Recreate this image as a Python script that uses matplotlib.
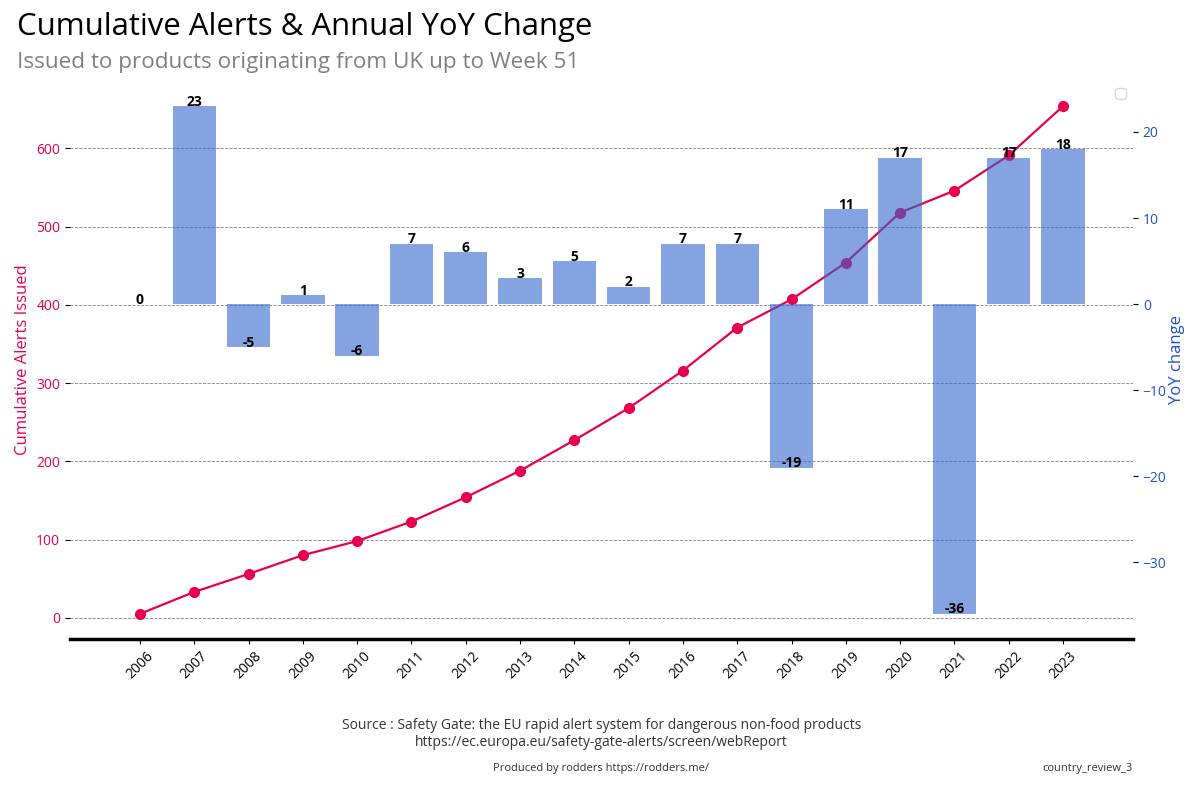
import matplotlib
matplotlib.use("Agg")
import matplotlib.pyplot as plt
import numpy as np

plt.rcParams['font.family'] = ['Open Sans', 'DejaVu Sans']

years = [2006, 2007, 2008, 2009, 2010, 2011, 2012, 2013, 2014, 2015,
         2016, 2017, 2018, 2019, 2020, 2021, 2022, 2023]
cumulative = [5, 33, 56, 80, 98, 123, 154, 188, 227, 268,
              316, 371, 407, 454, 518, 546, 591, 654]
yoy = [0, 23, -5, 1, -6, 7, 6, 3, 5, 2, 7, 7, -19, 11, 17, -36, 17, 18]

line_color = '#e8004c'
bar_color = '#3366cc'
right_color = '#1f4fcc'

fig = plt.figure(figsize=(12, 8), dpi=100)
ax = fig.add_axes([0.0583, 0.201, 0.8859, 0.698])
x = np.arange(len(years))

ax.plot(x, cumulative, color=line_color, marker='o', markersize=7, linewidth=1.6, zorder=3)
ax.set_ylabel('Cumulative Alerts Issued', color=line_color, fontsize=12)
ax.tick_params(axis='y', labelcolor=line_color, labelsize=10)
ax.grid(axis='y', linestyle='--', color='gray', linewidth=0.6)
ax.set_axisbelow(True)
ax.set_xticks(x)
ax.set_xticklabels([str(y) for y in years], rotation=45, fontsize=10)
for s in ['top', 'right', 'left']:
    ax.spines[s].set_visible(False)
ax.spines['bottom'].set_linewidth(2.5)

ax2 = ax.twinx()
ax2.bar(x, yoy, width=0.8, color=bar_color, alpha=0.6)
for xi, v in zip(x, yoy):
    ax2.annotate(str(v), (xi, v), xytext=(0, -1.8), textcoords='offset points',
                 ha='center', va='bottom', fontsize=10, fontweight='bold', color='black')
ax2.set_ylabel('YoY change', color=right_color, fontsize=12, labelpad=2)
ax2.tick_params(axis='y', labelcolor=right_color, labelsize=10)
for s in ['top', 'right', 'left', 'bottom']:
    ax2.spines[s].set_visible(False)
ax2.legend(handles=[], loc='upper right')

fig.text(0.014, 0.966, 'Cumulative Alerts & Annual YoY Change', fontsize=22.4, ha='left', va='center', color='black')
fig.text(0.014, 0.922, 'Issued to products originating from UK up to Week 51', fontsize=16.2, ha='left', va='center', color='gray')

fig.text(0.501, 0.093, 'Source : Safety Gate: the EU rapid alert system for dangerous non-food products',
         fontsize=10, ha='center', va='center', color='#333333')
fig.text(0.501, 0.072, 'https://ec.europa.eu/safety-gate-alerts/screen/webReport',
         fontsize=10, ha='center', va='center', color='#333333')
fig.text(0.501, 0.040, 'Produced by rodders https://rodders.me/', fontsize=8, ha='center', va='center', color='#333333')
fig.text(0.944, 0.040, 'country_review_3', fontsize=8, ha='right', va='center', color='#333333')

fig.savefig('out.png', dpi=100)
